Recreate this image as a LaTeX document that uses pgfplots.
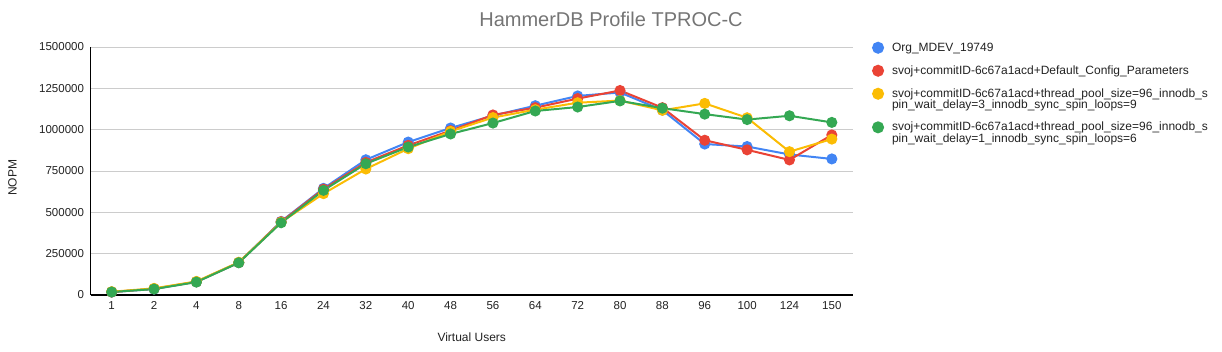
\documentclass[border=0pt]{standalone}
\usepackage{pgfplots}
\pgfplotsset{compat=1.18}
\usepackage{fontspec}
\setmainfont{Liberation Sans}
\definecolor{gblue}{HTML}{4285F4}
\definecolor{gred}{HTML}{EA4335}
\definecolor{gyellow}{HTML}{FBBC04}
\definecolor{ggreen}{HTML}{34A853}
\definecolor{titlegray}{HTML}{757575}
\definecolor{gridgray}{HTML}{CCCCCC}
\definecolor{labelgray}{HTML}{222222}
\pgfplotsset{
  oneline/.style={legend image code/.code={\fill[##1] (5pt,0pt) circle (5pt);}},
  twoline/.style={legend image code/.code={\fill[##1] (5pt,5.75pt) circle (5pt);}},
}
\begin{document}
\begin{tikzpicture}
\useasboundingbox (0,0) rectangle (1222pt,351pt);
\node[font=\fontsize{20}{24}\selectfont, text=titlegray] at (611pt,332pt) {HammerDB Profile TPROC-C};
\begin{axis}[
  at={(90.5pt,56pt)}, anchor=south west,
  scale only axis, width=762.5pt, height=248pt,
  xmin=-0.5, xmax=17.5, ymin=0, ymax=1500000,
  xtick={0,...,17},
  xticklabels={1,2,4,8,16,24,32,40,48,56,64,72,80,88,96,100,124,150},
  ytick={0,250000,500000,750000,1000000,1250000,1500000},
  scaled y ticks=false,
  /pgf/number format/fixed, /pgf/number format/1000 sep={}, /pgf/number format/assume math mode=true,
  tick label style={font=\fontsize{11.5}{13}\selectfont, text=labelgray},
  xticklabel style={yshift=-3pt},
  yticklabel style={xshift=-3pt},
  major tick length=0pt,
  axis x line*=bottom, axis y line*=left,
  axis line style={-, black, line width=1.1pt},
  ymajorgrids, grid style={gridgray, line width=0.8pt},
  xlabel={Virtual Users}, ylabel={NOPM},
  label style={font=\fontsize{12}{14}\selectfont, text=labelgray},
  xlabel style={at={(axis description cs:0.5,-0.169)}, anchor=center},
  ylabel style={at={(axis description cs:-0.1024,0.472)}, anchor=center},
  legend style={at={(axis description cs:1.025,1.0212)}, anchor=north west,
    draw=none, fill=none, inner sep=0pt, outer sep=0pt,
    column sep=8pt, row sep=11pt,
    cells={anchor=west},
    nodes={inner sep=0pt, align=left, font=\fontsize{12}{11.5}\selectfont, text=labelgray}},
  oneline,
  every axis plot/.append style={line width=2pt, mark=*, mark size=4.5pt},
]
\addplot[color=gblue] coordinates {(0,18000)(1,36000)(2,80000)(3,196000)(4,445000)(5,645000)(6,818000)(7,925000)(8,1010000)(9,1085000)(10,1145000)(11,1204000)(12,1225000)(13,1118000)(14,913000)(15,898000)(16,850000)(17,823000)};
\addlegendentry{Org\_MDEV\_19749}
\addplot[color=gred] coordinates {(0,18000)(1,38000)(2,80000)(3,196000)(4,443000)(5,640000)(6,802000)(7,905000)(8,994000)(9,1089000)(10,1133000)(11,1188000)(12,1237000)(13,1133000)(14,936000)(15,878000)(16,817000)(17,968000)};
\addlegendentry{svoj+commitID-6c67a1acd+Default\_Config\_Parameters}
\addplot[color=gyellow, twoline] coordinates {(0,20000)(1,40000)(2,82000)(3,198000)(4,440000)(5,613000)(6,762000)(7,885000)(8,990000)(9,1073000)(10,1121000)(11,1163000)(12,1176000)(13,1117000)(14,1159000)(15,1072000)(16,867000)(17,943000)};
\addlegendentry{svoj+commitID-6c67a1acd+thread\_pool\_size=96\_innodb\_s\\pin\_wait\_delay=3\_innodb\_sync\_spin\_loops=9}
\addplot[color=ggreen, twoline] coordinates {(0,18000)(1,36000)(2,78000)(3,195000)(4,437000)(5,633000)(6,794000)(7,895000)(8,974000)(9,1040000)(10,1113000)(11,1137000)(12,1174000)(13,1130000)(14,1094000)(15,1061000)(16,1084000)(17,1044000)};
\addlegendentry{svoj+commitID-6c67a1acd+thread\_pool\_size=96\_innodb\_s\\pin\_wait\_delay=1\_innodb\_sync\_spin\_loops=6}
\end{axis}
\end{tikzpicture}
\end{document}
